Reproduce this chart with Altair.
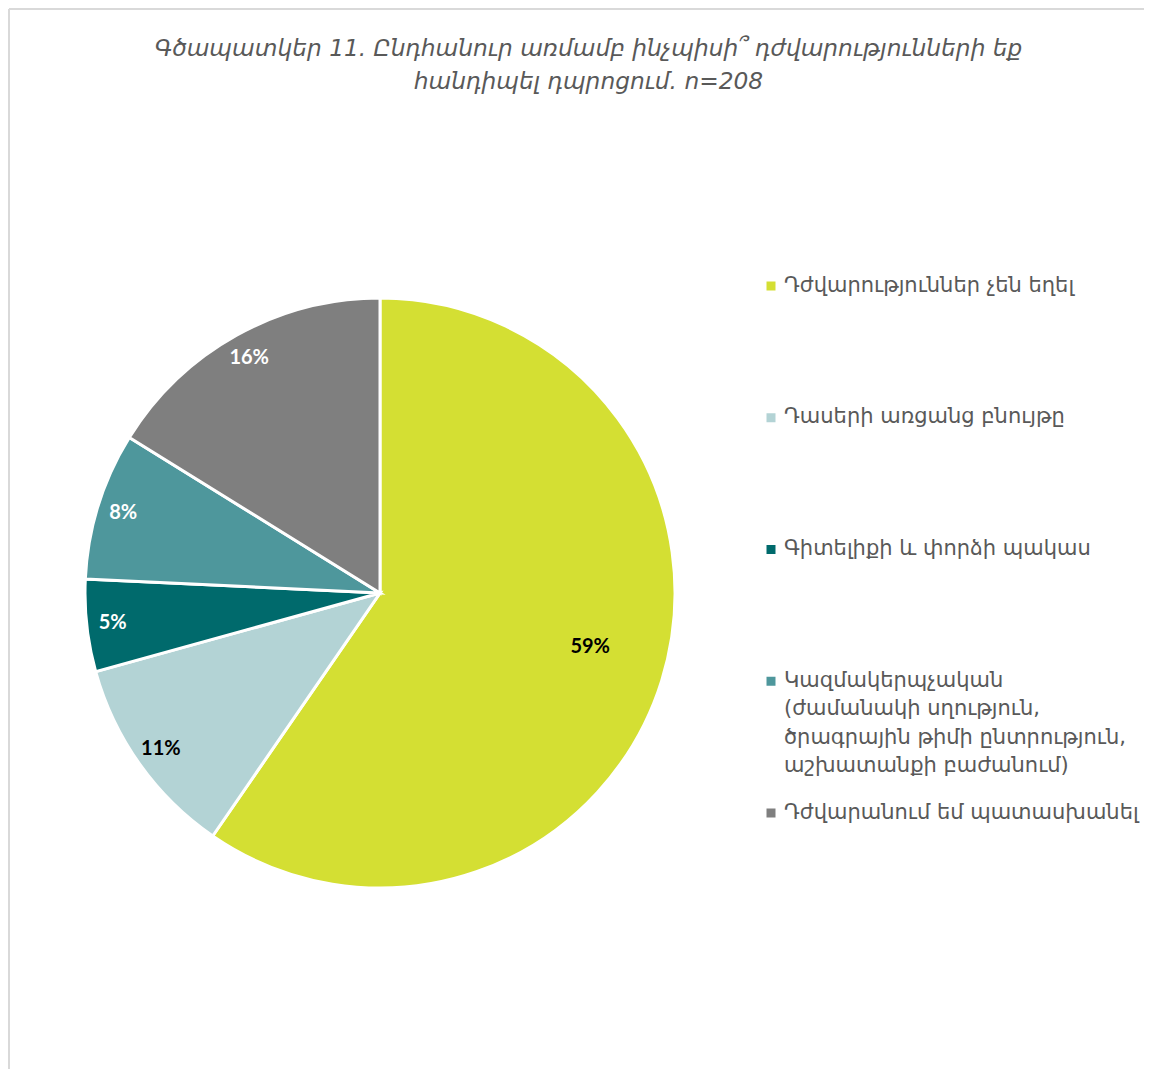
import altair as alt
import pandas as pd

categories = [
    "Դժվարություններ չեն եղել",
    "Դասերի առցանց բնույթը",
    "Գիտելիքի և փորձի պակաս",
    "Կազմակերպչական\n(ժամանակի սղություն,\nծրագրային թիմի ընտրություն,\nաշխատանքի բաժանում)",
    "Դժվարանում եմ պատասխանել",
]
values = [59, 11, 5, 8, 16]
labels = ["59%", "11%", "5%", "8%", "16%"]
colors = ["#D4DF33", "#B3D3D5", "#006A6C", "#4E979C", "#7F7F7F"]
title_lines = [
    "Գծապատկեր 11. Ընդհանուր առմամբ ինչպիսի՞ դժվարությունների եք",
    "հանդիպել դպրոցում. n=208",
]

W, H = 1135, 1060
CX, CY = 371, 584

df = pd.DataFrame({
    "category": categories,
    "value": values,
    "label": labels,
    "idx": list(range(len(categories))),
})

color_scale = alt.Scale(domain=categories, range=colors)

base = alt.Chart(df)

pie = base.mark_arc(outerRadius=295, stroke="white", strokeWidth=3).encode(
    theta=alt.Theta("value:Q", stack=True),
    order=alt.Order("idx:Q"),
    color=alt.Color("category:N", scale=color_scale, legend=None),
    x=alt.value(CX),
    y=alt.value(CY),
)

dark_test = alt.FieldOneOfPredicate(field="category", oneOf=[categories[2], categories[3], categories[4]])

text_big = base.transform_calculate(
    t="datum.value > 50 ? datum.label : ''"
).mark_text(radius=217, thetaOffset=-0.05, font="Lato", fontWeight="bold", fontSize=20).encode(
    theta=alt.Theta("value:Q", stack=True),
    order=alt.Order("idx:Q"),
    text="t:N",
    fill=alt.condition(dark_test, alt.value("white"), alt.value("black")),
    x=alt.value(CX),
    y=alt.value(CY),
)

text_small = base.transform_calculate(
    t="datum.value > 50 ? '' : datum.label"
).mark_text(radius=269, font="Lato", fontWeight="bold", fontSize=20).encode(
    theta=alt.Theta("value:Q", stack=True),
    order=alt.Order("idx:Q"),
    text="t:N",
    fill=alt.condition(dark_test, alt.value("white"), alt.value("black")),
    x=alt.value(CX),
    y=alt.value(CY),
)

ypos = alt.Y("category:N", scale=alt.Scale(type="point", domain=categories, range=[277, 804], padding=0), axis=None)

leg_sym = base.mark_square(size=81, opacity=1).encode(
    x=alt.value(762),
    y=ypos,
    color=alt.Color("category:N", scale=color_scale, legend=None),
)

leg_txt = base.mark_text(
    align="left", baseline="line-top", lineBreak="\n", lineHeight=28.5, dy=-14.5,
    font="DejaVu Sans", fontSize=21, color="#595959",
).encode(
    x=alt.value(775),
    y=ypos,
    text="category:N",
)

border_left = base.mark_rule(color="#D9D9D9", strokeWidth=1.5).encode(
    x=alt.value(0), y=alt.value(0), y2=alt.value(H)
)
border_top = base.mark_rule(color="#D9D9D9", strokeWidth=1.5).encode(
    x=alt.value(0), x2=alt.value(W), y=alt.value(0)
)

chart = alt.layer(
    border_left, border_top, pie, text_big, text_small, leg_sym, leg_txt
).properties(
    width=W,
    height=H,
    padding=0,
    title=alt.TitleParams(
        text=title_lines,
        font="DejaVu Sans",
        fontSize=23.3,
        fontStyle="italic",
        fontWeight="normal",
        color="#595959",
        lineHeight=33,
        anchor="middle",
        frame="group",
        offset=-86,
        dx=12,
    ),
).configure_view(stroke=None)

chart.save("out.html", embed_options={"renderer": "svg", "actions": False})
